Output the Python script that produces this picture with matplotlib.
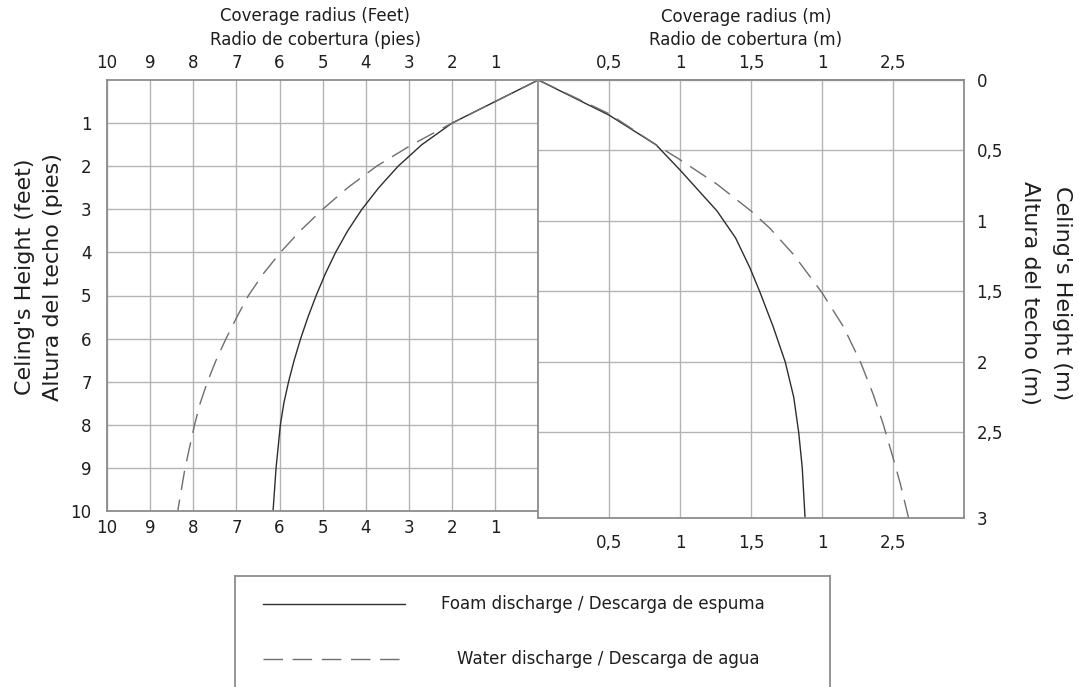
import matplotlib
matplotlib.use("Agg")
import matplotlib.pyplot as plt

# ---------------- data ----------------
# Left panel (feet): coverage radius vs ceiling height
foam_ft_height = [0, 0.5, 1, 1.5, 2, 2.5, 3, 3.5, 4, 4.5, 5, 5.5, 6, 6.5, 7, 7.5, 8, 9, 10]
foam_ft_radius = [0, 1.0, 2.0, 2.7, 3.25, 3.7, 4.09, 4.42, 4.70, 4.94, 5.15, 5.34, 5.51, 5.66, 5.79, 5.90, 5.98, 6.08, 6.15]

water_ft_height = [0, 0.5, 1, 1.5, 2, 2.5, 3, 3.5, 4, 4.5, 5, 5.5, 6, 6.5, 7, 7.5, 8, 9, 10]
water_ft_radius = [0, 1.0, 2.0, 2.93, 3.75, 4.42, 5.0, 5.52, 5.98, 6.38, 6.72, 6.99, 7.24, 7.47, 7.67, 7.84, 7.97, 8.19, 8.36]

# Right panel (metres)
foam_m_height = [0, 0.25, 0.46, 0.64, 0.93, 1.12, 1.33, 1.5, 1.75, 2.0, 2.25, 2.5, 2.75, 3.11]
foam_m_radius = [0, 0.5, 0.83, 1.0, 1.26, 1.39, 1.49, 1.56, 1.655, 1.74, 1.80, 1.835, 1.86, 1.88]

water_m_height = [0, 0.24, 0.46, 0.56, 0.74, 0.93, 1.05, 1.24, 1.51, 1.75, 2.0, 2.23, 2.44, 2.68, 2.86, 3.11]
water_m_radius = [0, 0.5, 0.83, 0.99, 1.26, 1.5, 1.63, 1.80, 2.0, 2.15, 2.27, 2.36, 2.43, 2.50, 2.55, 2.61]

# ticks / labels
ft_ticks = [1, 2, 3, 4, 5, 6, 7, 8, 9, 10]
ft_labels = ["1", "2", "3", "4", "5", "6", "7", "8", "9", "10"]
m_x_ticks = [0.5, 1.0, 1.5, 2.0, 2.5]
m_x_labels = ["0,5", "1", "1,5", "1", "2,5"]
m_y_ticks = [0, 0.5, 1.0, 1.5, 2.0, 2.5, 3.11]
m_y_labels = ["0", "0,5", "1", "1,5", "2", "2,5", "3"]

title_ft = ["Coverage radius (Feet)", "Radio de cobertura (pies)"]
title_m = ["Coverage radius (m)", "Radio de cobertura (m)"]
ylabel_ft = ["Celing's Height (feet)", "Altura del techo (pies)"]
ylabel_m = ["Celing's Height (m)", "Altura del techo (m)"]
legend_labels = ["Foam discharge / Descarga de espuma", "Water discharge / Descarga de agua"]

# ---------------- style ----------------
W, H = 1079, 687
TXT = "#1e1e1e"
GRID = "#b4b4b4"
SPINE = "#8c8c8c"
FOAM_C = "#2e2e2e"
WATER_C = "#6e6e6e"
DASH = (14, 7)
FS = 12

plt.rcParams["font.family"] = ["DejaVu Sans"]

fig = plt.figure(figsize=(W / 100, H / 100), dpi=100)


def rect(x0, y0, x1, y1):
    return [x0 / W, 1 - y1 / H, (x1 - x0) / W, (y1 - y0) / H]


axL = fig.add_axes(rect(107, 80, 538.3, 511))
axR = fig.add_axes(rect(538.3, 80, 964, 518.3))

# ---- left panel ----
axL.set_xlim(10, 0)
axL.set_ylim(10, 0)
axL.set_xticks(ft_ticks)
axL.set_xticklabels(ft_labels)
axL.set_yticks(ft_ticks)
axL.set_yticklabels(ft_labels)
axL.tick_params(axis="x", top=True, labeltop=True, bottom=True, labelbottom=True,
                length=0, pad=6, labelsize=FS, labelcolor=TXT)
axL.tick_params(axis="y", left=True, labelleft=True, length=0, pad=11,
                labelsize=FS, labelcolor=TXT)
axL.grid(True, color=GRID, lw=1.0)
axL.set_axisbelow(True)
for s in ["top", "left", "bottom"]:
    axL.spines[s].set_color(SPINE)
    axL.spines[s].set_linewidth(1.3)
axL.spines["right"].set_visible(False)

axL.plot(foam_ft_radius, foam_ft_height, color=FOAM_C, lw=1.0)
axL.plot(water_ft_radius, water_ft_height, color=WATER_C, lw=1.0, dashes=DASH)

# ---- right panel ----
axR.set_xlim(0, 3)
axR.set_ylim(3.11, 0)
axR.set_xticks(m_x_ticks)
axR.set_xticklabels(m_x_labels)
axR.set_yticks(m_y_ticks)
axR.set_yticklabels(m_y_labels)
axR.tick_params(axis="x", top=False, labeltop=False, bottom=True, labelbottom=True,
                length=0, pad=11, labelsize=FS, labelcolor=TXT)
axR.tick_params(axis="y", left=False, labelleft=False, right=True, labelright=True,
                length=0, pad=9, labelsize=FS, labelcolor=TXT)
axR.grid(True, color=GRID, lw=1.0)
axR.set_axisbelow(True)
for s in ["top", "left", "bottom", "right"]:
    axR.spines[s].set_color(SPINE)
    axR.spines[s].set_linewidth(1.3)

secR = axR.secondary_xaxis("top")
secR.set_xticks(m_x_ticks)
secR.set_xticklabels(m_x_labels)
secR.tick_params(length=0, pad=6, labelsize=FS, labelcolor=TXT)
secR.spines["top"].set_color(SPINE)
secR.spines["top"].set_linewidth(1.3)

axR.plot(foam_m_radius, foam_m_height, color=FOAM_C, lw=1.0)
axR.plot(water_m_radius, water_m_height, color=WATER_C, lw=1.0, dashes=DASH)

# ---- titles ----
fig.text(315 / W, 1 - 16 / H, title_ft[0], ha="center", va="center", fontsize=FS, color=TXT)
fig.text(315 / W, 1 - 40 / H, title_ft[1], ha="center", va="center", fontsize=FS, color=TXT)
fig.text(746 / W, 1 - 17 / H, title_m[0], ha="center", va="center", fontsize=FS, color=TXT)
fig.text(746 / W, 1 - 40 / H, title_m[1], ha="center", va="center", fontsize=FS, color=TXT)

# ---- y labels ----
fig.text(25 / W, 1 - 277 / H, ylabel_ft[0], rotation=90, ha="center", va="center", fontsize=16, color=TXT)
fig.text(53 / W, 1 - 277 / H, ylabel_ft[1], rotation=90, ha="center", va="center", fontsize=16, color=TXT)
fig.text(1062 / W, 1 - 293 / H, ylabel_m[0], rotation=270, ha="center", va="center", fontsize=16, color=TXT)
fig.text(1030 / W, 1 - 293 / H, ylabel_m[1], rotation=270, ha="center", va="center", fontsize=16, color=TXT)

# ---- legend box (drawn manually, bottom cut by figure edge) ----
LX0, LX1, LY0, LY1 = 235, 830, 576, 720
axLeg = fig.add_axes(rect(LX0, LY0, LX1, LY1))
axLeg.set_xlim(0, 1)
axLeg.set_ylim(1, 0)
axLeg.set_xticks([])
axLeg.set_yticks([])
for s in ["top", "left", "right", "bottom"]:
    axLeg.spines[s].set_color(SPINE)
    axLeg.spines[s].set_linewidth(1.3)


def lx(px):
    return (px - LX0) / (LX1 - LX0)


def ly(py):
    return (py - LY0) / (LY1 - LY0)


axLeg.plot([lx(263), lx(405)], [ly(604), ly(604)], color=FOAM_C, lw=1.0)
axLeg.plot([lx(263), lx(405)], [ly(659), ly(659)], color=WATER_C, lw=1.0, dashes=DASH)
axLeg.text(lx(603), ly(604), legend_labels[0], ha="center", va="center", fontsize=FS, color=TXT)
axLeg.text(lx(608), ly(659), legend_labels[1], ha="center", va="center", fontsize=FS, color=TXT)

fig.savefig("out.png", dpi=100, facecolor="white")
